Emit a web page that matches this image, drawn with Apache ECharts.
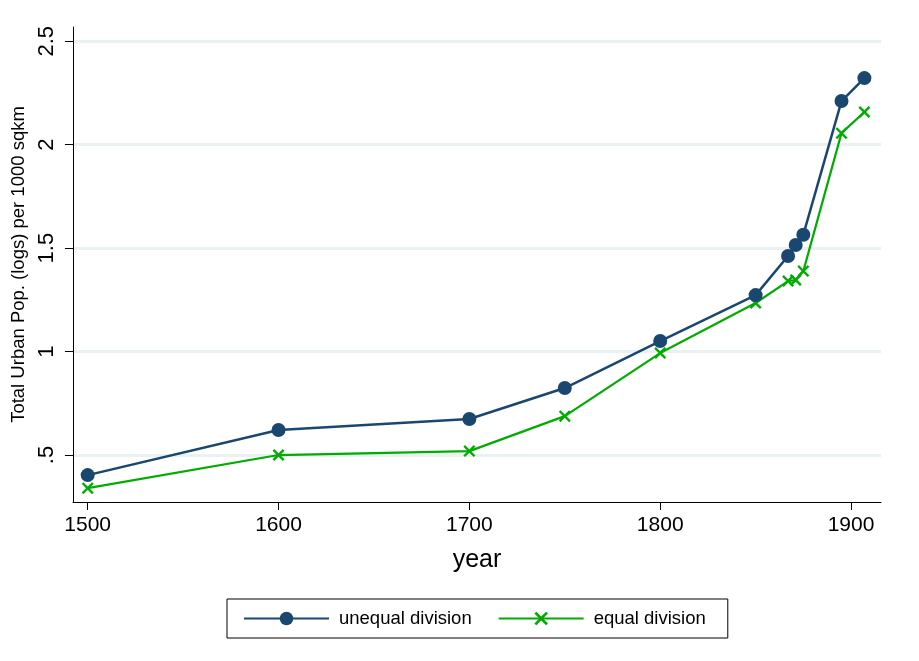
<!DOCTYPE html>
<html>
<head>
<meta charset="utf-8">
<script src="https://cdn.jsdelivr.net/npm/echarts@6/dist/echarts.min.js"></script>
<style>
html,body{margin:0;padding:0;background:#fff;}
#c{width:919px;height:661px;}
</style>
</head>
<body>
<div id="c"></div>
<script>
var years = [1500, 1600, 1700, 1750, 1800, 1850, 1867, 1871, 1875, 1895, 1907];
var unequalDivision = [0.403, 0.621, 0.674, 0.824, 1.051, 1.273, 1.462, 1.515, 1.565, 2.211, 2.322];
var equalDivision = [0.340, 0.500, 0.519, 0.688, 0.993, 1.235, 1.341, 1.346, 1.389, 2.056, 2.158];
var yTicks = [0.5, 1, 1.5, 2, 2.5];
var xTicks = [1500, 1600, 1700, 1800, 1900];

var navy = '#1a476f';
var green = '#00ac00';
var font = '"Liberation Sans", Arial, sans-serif';
var crossPath = 'path://M0,1.4L1.4,0L5,3.6L8.6,0L10,1.4L6.4,5L10,8.6L8.6,10L5,6.4L1.4,10L0,8.6L3.6,5Z';

function pairs(xs, ys){ return xs.map(function(x,i){ return [x, ys[i]]; }); }

var chart = echarts.init(document.getElementById('c'), null, {renderer:'canvas'});
chart.setOption({
  animation: false,
  backgroundColor: '#fff',
  grid: {left: 73, right: 38, top: 27, bottom: 159, containLabel: false},
  xAxis: {
    type: 'value', min: 1492.3, max: 1915.7,
    name: 'year', nameLocation: 'middle', nameGap: 46,
    nameTextStyle: {fontFamily: font, fontSize: 25, color: '#000'},
    axisLine: {show: true, lineStyle: {color: '#000', width: 1}},
    axisTick: {show: true, length: 8, lineStyle: {color: '#000'}, customValues: xTicks},
    axisLabel: {fontFamily: font, fontSize: 21, color: '#000', margin: 13, customValues: xTicks,
      formatter: function(v){ return String(v); }},
    splitLine: {show: false}
  },
  yAxis: {
    type: 'value', min: 0.273, max: 2.569,
    name: 'Total Urban Pop. (logs) per 1000 sqkm', nameLocation: 'middle', nameGap: 42,
    nameTextStyle: {fontFamily: font, fontSize: 18.5, color: '#000'},
    axisLine: {show: true, lineStyle: {color: '#000', width: 1}},
    axisTick: {show: true, length: 8, lineStyle: {color: '#000'}, customValues: yTicks},
    axisLabel: {fontFamily: font, fontSize: 22, color: '#000', margin: 15, rotate: 90, customValues: yTicks,
      formatter: function(v){ return v < 1 ? String(v).replace(/^0/, '') : String(v); }},
    splitLine: {show: false}
  },
  legend: {
    data: ['unequal division', 'equal division'],
    bottom: 23, left: 227,
    borderColor: '#000', borderWidth: 1, borderRadius: 0,
    padding: [10, 22, 10, 16],
    itemWidth: 85, itemHeight: 17, itemGap: 26,
    textStyle: {fontFamily: font, fontSize: 18.5, color: '#000', padding: [0, 0, 0, 5]}
  },
  series: [
    {
      name: 'grid', type: 'line', data: [], z: 0, silent: true,
      markLine: {
        silent: true, symbol: 'none', label: {show: false}, animation: false, z: 0,
        lineStyle: {color: '#eaf1f2', width: 3, type: 'solid'},
        data: yTicks.map(function(t){ return {yAxis: t}; })
      }
    },
    {
      name: 'unequal division', type: 'line', z: 3,
      data: pairs(years, unequalDivision),
      symbol: 'circle', symbolSize: 14,
      lineStyle: {color: navy, width: 2.5},
      itemStyle: {color: navy}
    },
    {
      name: 'equal division', type: 'line', z: 2,
      data: pairs(years, equalDivision),
      symbol: crossPath, symbolSize: 12,
      lineStyle: {color: green, width: 2.2},
      itemStyle: {color: green}
    }
  ]
});
</script>
</body>
</html>
